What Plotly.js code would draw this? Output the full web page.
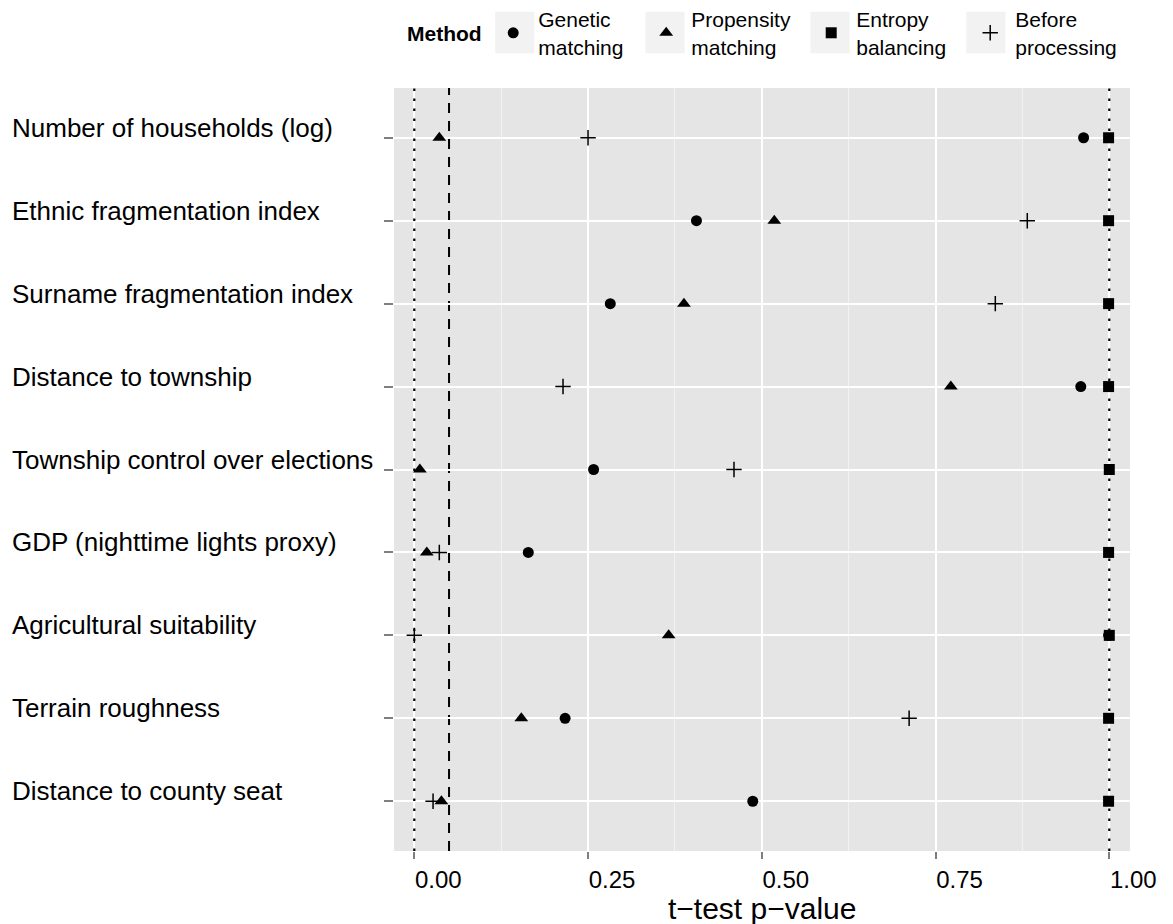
<!DOCTYPE html>
<html>
<head>
<meta charset="utf-8">
<script src="https://cdn.plot.ly/plotly-3.0.1.min.js"></script>
<style>
  html, body { margin: 0; padding: 0; background: #ffffff; }
  #chart { width: 1173px; height: 924px; }
</style>
</head>
<body>
<div id="chart"></div>
<script>
// Covariates (top to bottom)
const covariates = [
  "Number of households (log)",
  "Ethnic fragmentation index",
  "Surname fragmentation index",
  "Distance to township",
  "Township control over elections",
  "GDP (nighttime lights proxy)",
  "Agricultural suitability",
  "Terrain roughness",
  "Distance to county seat"
];

// t-test p-values by method
const geneticMatching    = [0.963, 0.406, 0.282, 0.959, 0.258, 0.164, 0.999, 0.217, 0.487];
const propensityMatching = [0.036, 0.518, 0.388, 0.772, 0.008, 0.018, 0.366, 0.154, 0.039];
const entropyBalancing   = [0.999, 0.999, 0.999, 0.999, 1.000, 0.999, 1.000, 0.999, 0.999];
const beforeProcessing   = [0.250, 0.882, 0.836, 0.214, 0.460, 0.036, 0.000, 0.712, 0.027];

const legendTitle = "Method";
const methodNames = ["Genetic<br>matching", "Propensity<br>matching", "Entropy<br>balancing", "Before<br>processing"];

// Reference lines (x positions)
const dottedLines = [0, 1];
const dashedLines = [0.05];

const xTicks = [0, 0.25, 0.5, 0.75, 1];
const xTickLabels = ["0.00", "0.25", "0.50", "0.75", "1.00"];
const xMinorTicks = [0.125, 0.375, 0.625, 0.875];
const xTitle = "t\u2212test p\u2212value";

const FONT = "Liberation Sans, Arial, Helvetica, sans-serif";

const series = [
  {y: geneticMatching,    name: methodNames[0], marker: {symbol: "circle", size: 11, color: "#000000"}, lw: 98},
  {y: propensityMatching, name: methodNames[1], marker: {symbol: "triangle-up", size: 12, color: "#000000"}, lw: 110},
  {y: entropyBalancing,   name: methodNames[2], marker: {symbol: "square", size: 11, color: "#000000"}, lw: 104},
  {y: beforeProcessing,   name: methodNames[3], marker: {symbol: "cross-thin-open", size: 11, color: "#000000", line: {width: 1.5, color: "#000000"}}, lw: 120}
];

const traces = series.map(s => ({
  type: "scatter",
  mode: "markers",
  x: s.y,
  y: covariates,
  name: s.name,
  marker: s.marker,
  legendwidth: s.lw,
  cliponaxis: false,
  hoverinfo: "x+y+name"
}));

const shapes = [];
// legend key backgrounds
[[0.1375, 0.1907], [0.3417, 0.3948], [0.5659, 0.6190], [0.7776, 0.8307]].forEach(b => shapes.push({
  type: "rect", xref: "paper", yref: "paper", x0: b[0], x1: b[1], y0: 1.0455, y1: 1.1000,
  layer: "below", line: {width: 0}, fillcolor: "#f2f2f2"
}));
dashedLines.forEach(v => shapes.push({
  type: "line", xref: "x", yref: "paper", x0: v, x1: v, y0: 0, y1: 1,
  layer: "between", line: {color: "#000000", width: 2, dash: "10px,8px"}
}));
dottedLines.forEach(v => shapes.push({
  type: "line", xref: "x", yref: "paper", x0: v, x1: v, y0: 0, y1: 1,
  layer: "above", line: {color: "#000000", width: 2.2, dash: "2.5px,7.5px"}
}));

const annotations = covariates.map(c => ({
  xref: "paper", yref: "y", x: -0.5217, y: c, text: c,
  xanchor: "left", yanchor: "middle", yshift: 10, showarrow: false,
  font: {family: FONT, size: 26, color: "#000000"}
}));
annotations.push({
  xref: "paper", yref: "paper", x: 0.015, y: 1.0708, text: "<b>" + legendTitle + "</b>",
  xanchor: "left", yanchor: "middle", showarrow: false,
  font: {family: FONT, size: 21, color: "#000000"}
});
// x-axis title
annotations.push({
  xref: "paper", yref: "paper", x: 0.5, y: -0.0755, text: xTitle,
  xanchor: "center", yanchor: "middle", showarrow: false, borderpad: 0,
  font: {family: FONT, size: 30, color: "#000000"}
});

const layout = {
  width: 1173, height: 924,
  margin: {l: 394, r: 43, t: 88, b: 73, pad: 0, autoexpand: false},
  paper_bgcolor: "#ffffff",
  plot_bgcolor: "#e5e5e5",
  font: {family: FONT, color: "#000000"},
  showlegend: true,
  legend: {
    orientation: "h", xref: "paper", x: 0.128, xanchor: "left",
    yref: "container", y: 0.9643, yanchor: "middle",
    bgcolor: "rgba(0,0,0,0)", borderwidth: 0,
    font: {family: FONT, size: 21, color: "#000000"},
    itemwidth: 40,
    valign: "middle", traceorder: "normal", itemclick: false, itemdoubleclick: false
  },
  xaxis: {
    range: [-0.0292, 1.0298],
    tickvals: xTicks, ticktext: xTickLabels,
    ticks: "outside", ticklen: 7, tickwidth: 2, tickcolor: "#7f7f7f",
    ticklabelshift: 24, ticklabeloverflow: "allow",
    tickfont: {family: FONT, size: 24, color: "#000000"},
    showgrid: true, gridcolor: "#ffffff", gridwidth: 2.2,
    minor: {showgrid: true, tickvals: xMinorTicks, gridcolor: "#f2f2f2", gridwidth: 1.2, ticks: ""},
    zeroline: false, showline: false,
    automargin: false, fixedrange: true
  },
  yaxis: {
    type: "category",
    categoryorder: "array", categoryarray: covariates,
    range: [8.6, -0.6],
    showticklabels: false,
    ticks: "outside", ticklen: 9, tickwidth: 2, tickcolor: "#7f7f7f",
    showgrid: true, gridcolor: "#ffffff", gridwidth: 2.2,
    zeroline: false, showline: false,
    automargin: false, fixedrange: true
  },
  shapes: shapes,
  annotations: annotations
};

Plotly.newPlot("chart", traces, layout, {displayModeBar: false});
</script>
</body>
</html>
